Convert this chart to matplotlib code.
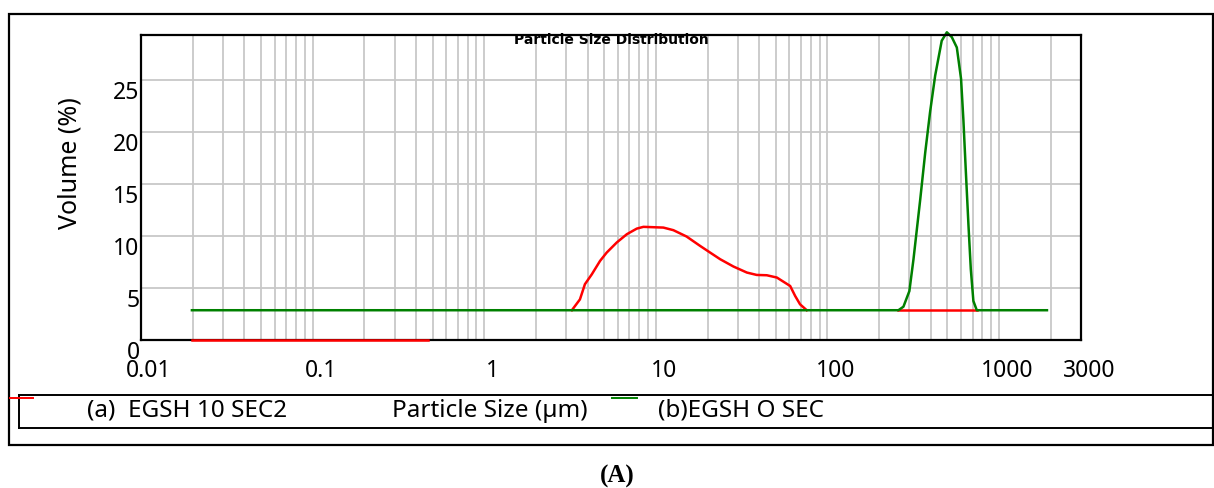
import numpy as np
import matplotlib.pyplot as plt
import matplotlib.transforms as mtransforms
from matplotlib.lines import Line2D
from matplotlib.patches import Rectangle
from matplotlib.ticker import LogLocator, NullFormatter, NullLocator

plt.rcParams['font.family'] = ['Noto Sans', 'DejaVu Sans']

W, H = 1214, 489

# --- data ---
base = 2.86   # both traces sit on this level

red_low_x = [0.0198, 0.47]
red_low_y = [0, 0]

red_x = [3.24, 3.61, 3.86, 4.23, 4.73, 5.17, 5.92, 6.77, 7.74, 8.46, 11.06,
         12.65, 15.1, 18.1, 20.7, 23.7, 28.3, 33.9, 38.7, 44.3, 50.7, 60.6,
         64.8, 69.2, 75.7]
red_y = [2.86, 3.9, 5.36, 6.3, 7.6, 8.4, 9.37, 10.16, 10.7, 10.87, 10.8,
         10.55, 9.94, 9.04, 8.4, 7.76, 7.06, 6.48, 6.25, 6.22, 6.0, 5.19,
         4.23, 3.43, 2.86]

red_tail_x = [259, 741]
red_tail_y = [base, base]

green_x = [0.0198, 259, 277, 300, 317, 347, 371, 396, 424, 463, 496, 530,
           567, 600, 619, 639, 663, 684, 708, 741, 1900]
green_y = [base, 2.86, 3.2, 4.7, 7.76, 13.5, 18.0, 21.9, 25.4, 28.75, 29.56,
           29.1, 28.1, 25.1, 21.2, 16.4, 11.0, 6.8, 3.75, 2.86, base]

x_ticks = [0.01, 0.1, 1, 10, 100, 1000, 3000]
x_labels = ['0.01', '0.1', '1', '10', '100', '1000', '3000']
y_ticks = [0, 5, 10, 15, 20, 25]

# --- figure ---
fig = plt.figure(figsize=(W / 100, H / 100), dpi=100)

def fx(px):
    return px / W

def fy(py):
    return 1 - py / H

ax = fig.add_axes([fx(141), fy(341), fx(1081) - fx(141), fy(36) - fy(341)])
ax.set_xscale('log')
ax.set_xlim(0.01, 3000)
ax.set_ylim(0, 29.3)

ax.xaxis.set_minor_locator(LogLocator(base=10, subs=np.arange(2, 10)))
ax.xaxis.set_minor_formatter(NullFormatter())
ax.yaxis.set_minor_locator(NullLocator())
ax.set_xticks(x_ticks, x_labels)
ax.set_yticks(y_ticks, [str(v) for v in y_ticks])
ax.grid(which='both', axis='x', color='#c8c8c8', lw=1.3)
ax.grid(which='major', axis='y', color='#c8c8c8', lw=1.3)
ax.set_axisbelow(True)
ax.tick_params(which='both', length=0, labelsize=16.5)
ax.tick_params(axis='x', pad=13)
ax.tick_params(axis='y', pad=1)
for sp in ax.spines.values():
    sp.set_linewidth(1.6)
    sp.set_color('black')

# nudge tick labels like the original software does
for lab in ax.get_xticklabels():
    lab.set_transform(lab.get_transform() +
                      mtransforms.ScaledTranslation(0.08, 0, fig.dpi_scale_trans))
for lab in ax.get_yticklabels():
    lab.set_transform(lab.get_transform() +
                      mtransforms.ScaledTranslation(0, -0.09, fig.dpi_scale_trans))

ax.plot(red_low_x, red_low_y, color='#ff0000', lw=1.8, clip_on=False, zorder=3)
ax.plot(red_x, red_y, color='#ff0000', lw=1.8)
ax.plot(red_tail_x, red_tail_y, color='#ff0000', lw=1.8)
ax.plot(green_x, green_y, color='#008000', lw=1.8, clip_on=False)

fig.text(fx(70), fy(163), 'Volume (%)', rotation=90, ha='center', va='center',
         fontsize=18)
ax.text(0.5, 1.0, 'Particle Size Distribution', transform=ax.transAxes
        + mtransforms.ScaledTranslation(0, -0.04, fig.dpi_scale_trans),
        ha='center', va='center', fontsize=10, fontweight='bold',
        family='DejaVu Sans')

# --- outer frame and legend strip ---
fig.patches.append(Rectangle((fx(9), fy(446)), fx(1213) - fx(9), fy(15) - fy(446),
                             transform=fig.transFigure, fill=False,
                             ec='black', lw=1.6))
for yy in (396, 429):
    fig.lines.append(Line2D([fx(19), fx(1213)], [fy(yy), fy(yy)],
                            transform=fig.transFigure, color='black', lw=1.4))
fig.lines.append(Line2D([fx(19), fx(19)], [fy(396), fy(429)],
                        transform=fig.transFigure, color='black', lw=1.4))
fig.lines.append(Line2D([fx(10), fx(33)], [fy(399), fy(399)],
                        transform=fig.transFigure, color='#ff0000', lw=1.4))
fig.lines.append(Line2D([fx(612), fx(637)], [fy(399), fy(399)],
                        transform=fig.transFigure, color='#008000', lw=1.4))

fig.text(fx(87), fy(411), '(a)  EGSH 10 SEC2', ha='left', va='center', fontsize=17.5)
fig.text(fx(490), fy(411), 'Particle Size (µm)', ha='center', va='center', fontsize=17.5)
fig.text(fx(658), fy(411), '(b)EGSH O SEC', ha='left', va='center', fontsize=17.5)
fig.text(fx(617), fy(476), '(A)', ha='center', va='center', fontsize=18,
         fontweight='bold', family='Liberation Serif')

fig.savefig('out.png', dpi=100)
